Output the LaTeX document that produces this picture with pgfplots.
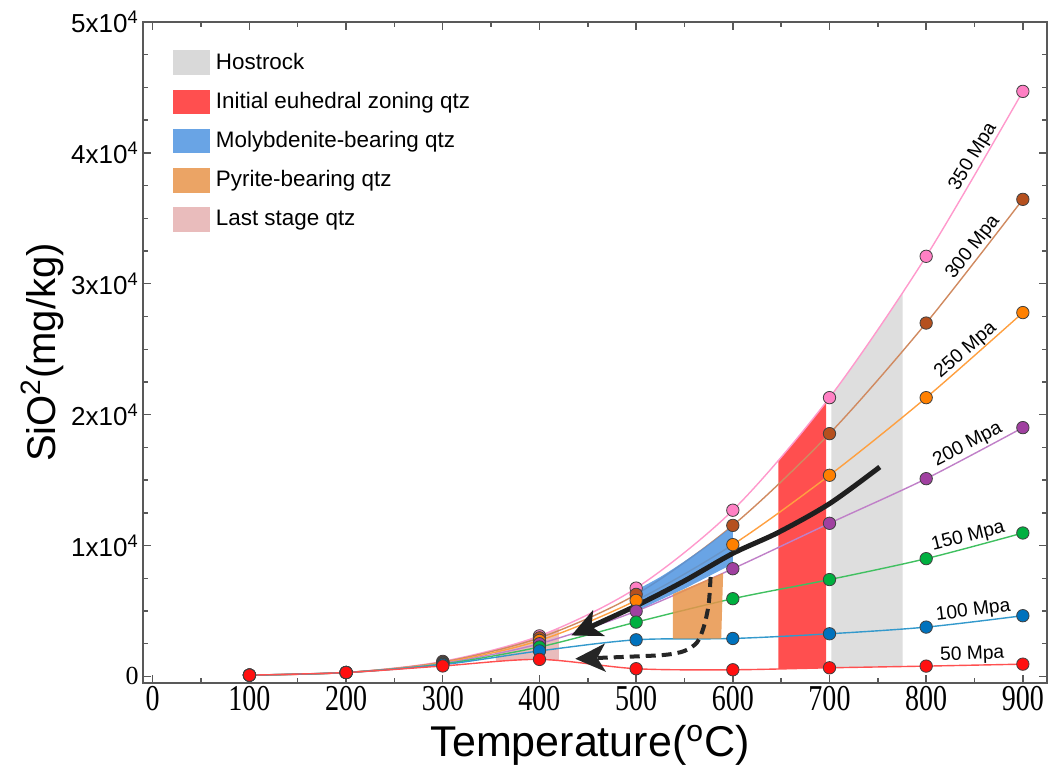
\documentclass[border=0pt]{standalone}
\usepackage{fontspec}
\setmainfont{Liberation Sans}
\newfontfamily\seriffont{Liberation Serif}
\usepackage{graphicx}
\usepackage{pgfplots}
\pgfplotsset{compat=1.18}
\usepackage{pgfplotstable}
\usepgfplotslibrary{fillbetween}
\usetikzlibrary{arrows.meta}

% marker colours and lighter line colours of the isobars
\definecolor{pinkM}{HTML}{FF80C4}\definecolor{pinkL}{HTML}{FF99CC}
\definecolor{brownM}{HTML}{B5501E}\definecolor{brownL}{HTML}{D08A60}
\definecolor{orangeM}{HTML}{FF8000}\definecolor{orangeL}{HTML}{FFA040}
\definecolor{purpleM}{HTML}{A040A0}\definecolor{purpleL}{HTML}{C080C8}
\definecolor{greenM}{HTML}{00B040}\definecolor{greenL}{HTML}{40C060}
\definecolor{blueM}{HTML}{0072BD}\definecolor{blueL}{HTML}{3399CC}
\definecolor{redM}{HTML}{FF1010}\definecolor{redL}{HTML}{FF5050}
% field colours
\definecolor{hostgray}{HTML}{D9D9D9}
\definecolor{zonered}{HTML}{FF3030}
\definecolor{molyblue}{HTML}{4F94E0}
\definecolor{pyorange}{HTML}{E8944A}
\definecolor{lastpink}{HTML}{E0A0A0}

\newcommand\sx[1]{\scalebox{1}[1.3]{#1}}

% quartz solubility (mg/kg) along isobars, 50--350 MPa
\pgfplotstableread{
T    p350   p300   p250   p200   p150   p100   p50
100  100    100    100    100    100    100    100
200  300    300    300    300    300    300    300
300  1150   1100   1050   1000   950    900    800
400  3100   2950   2750   2500   2250   1950   1300
500  6750   6270   5810   4990   4150   2800   590
600  12700  11540  10070  8230   5940   2900   510
700  21300  18550  15370  11700  7400   3260   660
800  32100  27000  21300  15110  9000   3770   790
900  44700  36450  27800  19010  10960  4640   940
}\solubility

\begin{document}
\begin{tikzpicture}
\begin{axis}[
  at={(0,0)}, anchor=south west,
  scale only axis, width=451.7pt, height=330.3pt,
  xmin=-10, xmax=925, ymin=-500, ymax=50000,
  xtick={0,100,...,900}, minor x tick num=1,
  xticklabels={\sx{0},\sx{100},\sx{200},\sx{300},\sx{400},\sx{500},\sx{600},\sx{700},\sx{800},\sx{900}},
  ytick={0,10000,20000,30000,40000,50000}, minor y tick num=3,
  yticklabels={{\seriffont\fontsize{13}{13}\selectfont 0},1x10\textsuperscript{4},2x10\textsuperscript{4},3x10\textsuperscript{4},4x10\textsuperscript{4},5x10\textsuperscript{4}},
  scaled y ticks=false,
  tick align=inside,
  major tick length=4pt, minor tick length=2.5pt,
  axis line style={draw=black!65, line width=0.8pt},
  every tick/.style={draw=black!65, line width=0.7pt},
  xticklabel style={font=\seriffont\fontsize{14}{14}\selectfont, inner sep=1.5pt},
  yticklabel style={font=\fontsize{13}{13}\selectfont, inner sep=2pt},
  xlabel={Temperature(\textsuperscript{o}C)},
  ylabel={SiO\textsuperscript{2}(mg/kg)},
  xlabel style={font=\fontsize{21.5}{21.5}\selectfont, at={(axis description cs:0.5,0)}, anchor=center, yshift=-31pt, xshift=-2.5pt},
  ylabel style={font=\fontsize{20}{20}\selectfont, at={(axis description cs:0,0.5)}, anchor=center, yshift=50.5pt},
  legend style={draw=none, fill=none, at={(axis description cs:0,1)}, anchor=north west,
    xshift=15pt, yshift=-14pt, inner sep=0pt, row sep=7.5pt,
    font=\fontsize{11.2}{11.2}\selectfont, nodes={inner sep=0.5pt}},
  legend cell align=left,
  /tikz/every odd column/.append style={column sep=2.8pt},
]
% legend swatches
\addlegendimage{legend image code/.code={\fill[hostgray] (0pt,-5.85pt) rectangle (17.5pt,5.85pt);}}
\addlegendentry{Hostrock}
\addlegendimage{legend image code/.code={\fill[zonered!85] (0pt,-5.85pt) rectangle (17.5pt,5.85pt);}}
\addlegendentry{Initial euhedral zoning qtz}
\addlegendimage{legend image code/.code={\fill[molyblue!85] (0pt,-5.85pt) rectangle (17.5pt,5.85pt);}}
\addlegendentry{Molybdenite-bearing qtz}
\addlegendimage{legend image code/.code={\fill[pyorange!85] (0pt,-5.85pt) rectangle (17.5pt,5.85pt);}}
\addlegendentry{Pyrite-bearing qtz}
\addlegendimage{legend image code/.code={\fill[lastpink!70] (0pt,-5.85pt) rectangle (17.5pt,5.85pt);}}
\addlegendentry{Last stage qtz}

% isobars
\addplot[forget plot, smooth, pinkL, line width=0.7pt, name path=iso350] table[x=T,y=p350]{\solubility};
\addplot[forget plot, smooth, brownL, line width=0.7pt] table[x=T,y=p300]{\solubility};
\addplot[forget plot, smooth, orangeL, line width=0.7pt] table[x=T,y=p250]{\solubility};
\addplot[forget plot, smooth, purpleL, line width=0.7pt] table[x=T,y=p200]{\solubility};
\addplot[forget plot, smooth, greenL, line width=0.7pt] table[x=T,y=p150]{\solubility};
\addplot[forget plot, smooth, blueL, line width=0.7pt] table[x=T,y=p100]{\solubility};
\addplot[forget plot, smooth, redL, line width=0.7pt, name path=iso50] table[x=T,y=p50]{\solubility};

% quartz generations
\addplot[forget plot, draw=none, fill=zonered, fill opacity=0.85]
  fill between[of=iso350 and iso50, soft clip={domain=647:693}];
\addplot[forget plot, draw=none, fill=molyblue, fill opacity=0.85, smooth] coordinates
  {(500,6600) (525,7600) (550,8800) (575,10100) (600,11500)} --
  (axis cs:600,8600) -- (axis cs:550,6700) -- (axis cs:500,5000) -- cycle;
\addplot[forget plot, draw=none, fill=pyorange, fill opacity=0.85] coordinates
  {(538,2880) (538,6300) (590,7900) (588,2880)} -- cycle;

% data points
\addplot[forget plot, only marks, mark=*, mark size=3.1pt, mark options={fill=pinkM, draw=black!75, line width=0.4pt}] table[x=T,y=p350]{\solubility};
\addplot[forget plot, only marks, mark=*, mark size=3.1pt, mark options={fill=brownM, draw=black!75, line width=0.4pt}] table[x=T,y=p300]{\solubility};
\addplot[forget plot, only marks, mark=*, mark size=3.1pt, mark options={fill=orangeM, draw=black!75, line width=0.4pt}] table[x=T,y=p250]{\solubility};
\addplot[forget plot, only marks, mark=*, mark size=3.1pt, mark options={fill=purpleM, draw=black!75, line width=0.4pt}] table[x=T,y=p200]{\solubility};
\addplot[forget plot, only marks, mark=*, mark size=3.1pt, mark options={fill=greenM, draw=black!75, line width=0.4pt}] table[x=T,y=p150]{\solubility};
\addplot[forget plot, only marks, mark=*, mark size=3.1pt, mark options={fill=blueM, draw=black!75, line width=0.4pt}] table[x=T,y=p100]{\solubility};
\addplot[forget plot, only marks, mark=*, mark size=3.1pt, mark options={fill=redM, draw=black!75, line width=0.4pt}] table[x=T,y=p50]{\solubility};

% host rock and last-stage fields over the points
\addplot[forget plot, draw=none, fill=hostgray, fill opacity=0.88]
  fill between[of=iso350 and iso50, soft clip={domain=702:775}];
\addplot[forget plot, draw=none, fill=lastpink, fill opacity=0.7]
  fill between[of=iso350 and iso50, soft clip={domain=355:420}];

% evolution paths
\addplot[forget plot, smooth, line width=2.5pt, black!88,
  -{Stealth[length=15pt,width=14pt,inset=4pt]}] coordinates
  {(752,16000) (700,13200) (647,11000) (600,9400) (550,7300) (500,5400) (433,3130)};
\addplot[forget plot, smooth, line width=2pt, black!85, dash pattern=on 5pt off 3pt,
  -{Stealth[length=15pt,width=14pt,inset=4pt]}] coordinates
  {(577,7600) (575,5500) (570,3800) (563,2600) (550,1950) (530,1650) (490,1500) (437,1350)};

% isobar labels, set just above each line
\begin{scope}[every node/.style={font=\fontsize{9.6}{9.6}\selectfont, anchor=south, inner sep=0.6pt}]
\node[rotate=59] at (axis cs:858,39300) {350 Mpa};
\node[rotate=52] at (axis cs:857,32300) {300 Mpa};
\node[rotate=41] at (axis cs:848,24300) {250 Mpa};
\node[rotate=27.5] at (axis cs:848,17000) {200 Mpa};
\node[rotate=14] at (axis cs:846,9900) {150 Mpa};
\node[rotate=7] at (axis cs:850,4210) {100 Mpa};
\node[rotate=2] at (axis cs:848,870) {50 Mpa};
\end{scope}
\end{axis}
\pgfresetboundingbox
\path (-71.5pt,-43.5pt) rectangle (452.7pt,341.3pt);
\end{tikzpicture}
\end{document}
